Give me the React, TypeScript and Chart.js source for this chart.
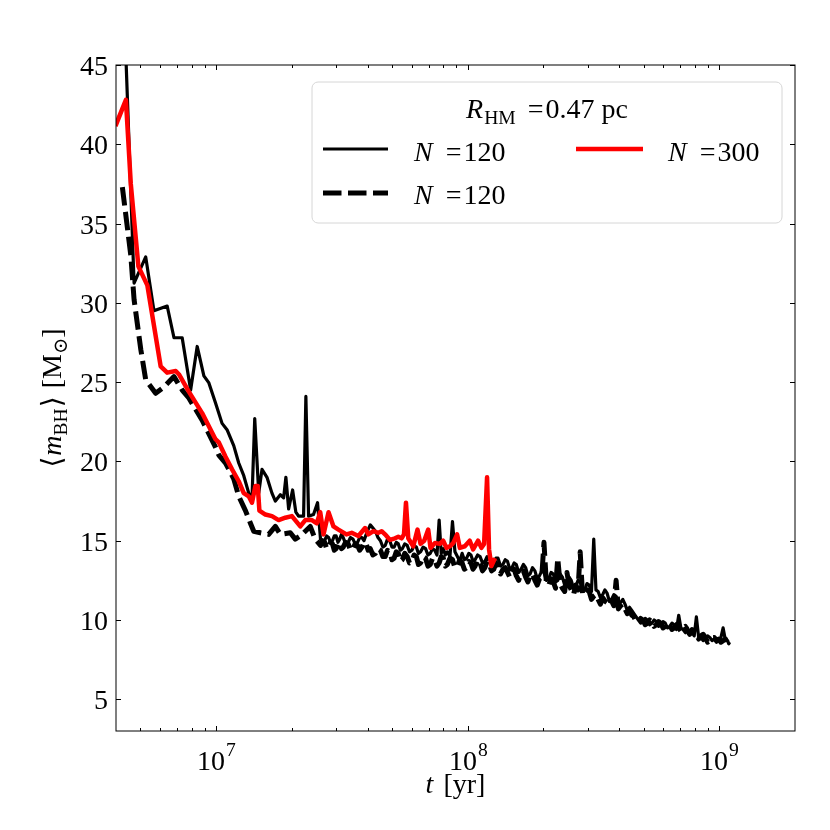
import React, { useEffect, useRef } from "react";
import { Chart, registerables } from "chart.js";

Chart.register(...registerables);

const FONT = '"Liberation Serif", "DejaVu Serif", serif';
const FS = 28;

// ---- data (t in Myr, <m_BH> in Msun) ----
const solidEarlyT = [4.3, 4.72, 5.25, 5.66, 6.39, 6.8, 7.33, 7.92, 8.41, 8.94, 9.36, 9.94, 10.56, 11.05, 11.75, 12.3, 12.88, 13.48, 13.89, 14.24, 14.77, 15.22, 15.93, 16.67, 17.2, 18.0, 18.55, 18.94, 19.42, 20.14, 20.75, 21.27, 22.27, 22.74, 23.31, 24.39, 25.3];
const solidEarlyM = [49, 31.25, 32.9, 29.5, 29.8, 27.8, 27.8, 24.5, 27.25, 25.4, 24.95, 23.7, 22.4, 22.0, 21.0, 19.9, 19.1, 18.0, 17.7, 22.7, 18.0, 19.5, 19.0, 18.0, 17.5, 17.9, 17.7, 19.0, 17.0, 18.2, 16.8, 16.55, 16.55, 24.1, 16.55, 16.65, 17.4];

const dashedEarlyT = [4.24, 4.58, 4.72, 5.02, 5.25, 5.75, 6.21, 6.8, 7.33, 7.79, 8.8, 9.94, 10.25, 10.9, 11.75, 12.3, 13.08, 13.69, 14.11, 15.0, 16.18, 17.2, 18.0, 19.72, 20.64, 21.61, 23.67, 24.77];
const dashedEarlyM = [37.3, 33.0, 30.2, 27.05, 25.15, 24.3, 24.7, 25.35, 24.5, 24.0, 22.6, 20.9, 20.4, 19.9, 18.9, 17.8, 16.9, 16.1, 15.6, 15.5, 15.4, 15.9, 15.4, 15.5, 15.1, 15.3, 15.9, 15.1];

const lateT = [
  26, 26.5, 27, 27.5, 28, 28.5, 29, 29.5, 30, 30.5,
  31, 31.5, 32, 32.7, 33.5, 34.2, 35, 35.7, 36.5, 37.2,
  38, 38.7, 39.5, 40.2, 41, 42, 43, 44, 45, 46,
  47, 48, 49, 50, 51, 52, 53, 54, 55, 56.2,
  57.5, 58.7, 60, 61.2, 62.5, 63.7, 65, 66.5, 68, 69.5,
  71, 72.5, 74, 75.5, 77, 78.5, 80, 81.5, 83, 85,
  87, 89, 91, 93, 95, 97, 99, 101, 103, 105,
  107, 109.5, 112, 114.5, 117, 119.5, 122, 124.5, 127, 129.5,
  132, 135, 138, 141, 144, 147, 150, 153, 156, 159.5,
  163, 166.5, 170, 173.5, 177, 181, 185, 189, 193, 197,
  201, 205.5, 210, 214.5, 219, 223.5, 228, 233, 238, 243,
  248, 253, 258, 263.5, 269, 274.5, 280, 286, 292, 298,
  304, 310.5, 317, 323.5, 330, 337, 344, 351, 358, 365.5,
  373, 381, 389, 397, 405, 413.5, 422, 431, 440, 449,
  458, 467.5, 477, 487, 497, 507.5, 518, 529, 540, 551,
  562, 573.5, 585, 597.5, 610, 622.5, 635, 648.5, 662, 676,
  690, 704, 718, 733, 748, 763.5, 779, 795, 811, 828,
  845, 862.5, 880, 898.5, 917, 936, 955, 975, 995, 1015.5,
  1036, 1058, 1080, 1090, 1100,
];
const solidLateM = [
  15.1, 14.8, 15.0, 15.3, 15.2, 14.9, 15.0, 15.3, 15.3, 14.9,
  15.1, 15.4, 15.2, 14.8, 14.9, 15.2, 15.1, 14.8, 14.9, 15.2,
  15.2, 15.0, 15.4, 15.7, 16.0, 15.8, 15.6, 15.2, 15.0, 14.6,
  14.7, 15.1, 15.0, 14.6, 14.6, 14.9, 14.8, 14.4, 14.5, 14.8,
  14.7, 14.3, 14.4, 14.7, 14.6, 14.2, 14.3, 14.6, 14.5, 14.1,
  14.2, 14.5, 14.4, 14.1, 16.3, 14.2, 14.5, 14.1, 14.3, 14.0,
  16.2, 14.3, 14.0, 13.7, 14.2, 13.8, 13.9, 14.2, 14.1, 13.7,
  13.8, 14.1, 14.0, 13.6, 13.7, 14.0, 13.9, 13.5, 13.6, 13.9,
  13.9, 13.4, 13.5, 13.8, 13.7, 13.2, 13.3, 13.6, 13.5, 13.0,
  13.2, 13.5, 13.3, 12.8, 12.9, 13.3, 13.1, 12.6, 12.8, 13.1,
  13.0, 12.5, 12.6, 13.0, 12.9, 12.4, 12.5, 12.9, 12.7, 12.2,
  12.3, 12.7, 12.5, 12.0, 12.1, 12.5, 12.4, 11.9, 11.9, 12.3,
  12.2, 11.8, 15.1, 11.9, 11.8, 11.4, 11.6, 11.9, 11.7, 11.2,
  11.3, 11.6, 11.5, 11.0, 11.1, 11.3, 11.0, 10.6, 10.8, 10.6,
  10.4, 10.2, 10.0, 9.8, 9.9, 10.1, 10.0, 9.7, 9.8, 10.0,
  9.9, 9.6, 9.7, 9.9, 9.8, 9.5, 9.6, 9.8, 9.7, 9.4,
  10.3, 9.5, 9.4, 9.2, 9.5, 9.1, 9.2, 9.0, 10.2, 8.9,
  8.9, 8.7, 8.8, 9.0, 8.9, 8.7, 8.8, 8.6, 8.7, 8.9,
  9.5, 8.7, 8.7, 8.5, 8.6,
];
const dashedLateM = [
  14.7, 15.0, 14.9, 14.5, 14.6, 14.9, 14.8, 14.4, 14.5, 14.9,
  14.8, 14.5, 14.6, 14.9, 14.8, 14.4, 14.5, 14.8, 14.7, 14.4,
  14.6, 14.9, 14.8, 14.4, 14.5, 14.1, 14.2, 14.5, 14.4, 14.0,
  14.0, 14.4, 14.3, 13.8, 13.9, 14.3, 14.2, 13.7, 13.8, 14.2,
  14.0, 13.6, 13.7, 14.1, 14.0, 13.5, 13.6, 14.0, 13.9, 13.4,
  13.5, 13.9, 13.8, 13.4, 13.6, 14.0, 13.9, 13.4, 13.5, 13.9,
  13.8, 13.3, 13.4, 13.8, 13.6, 13.2, 13.3, 13.7, 13.6, 13.2,
  13.4, 13.8, 13.6, 13.1, 13.3, 13.7, 13.5, 13.1, 13.2, 13.6,
  13.4, 12.9, 13.2, 13.3, 13.0, 12.7, 13.1, 13.2, 12.8, 12.5,
  13.0, 13.1, 12.7, 12.4, 12.8, 12.9, 12.5, 12.2, 12.6, 12.7,
  14.9, 12.3, 12.2, 12.6, 12.4, 12.0, 13.9, 12.3, 12.0, 11.8,
  13.0, 12.2, 11.9, 11.6, 12.2, 11.9, 14.3, 11.6, 11.6, 11.9,
  11.8, 11.3, 11.5, 11.6, 11.3, 11.0, 11.4, 11.2, 11.1, 10.9,
  11.2, 10.9, 12.5, 10.7, 10.9, 10.6, 10.7, 10.4, 10.6, 10.3,
  10.2, 9.9, 9.9, 10.1, 10.0, 9.7, 9.8, 10.0, 9.9, 9.6,
  9.7, 9.9, 9.8, 9.5, 9.6, 9.8, 9.7, 9.4, 9.5, 9.7,
  9.5, 9.3, 9.5, 9.6, 9.3, 9.1, 9.4, 9.2, 9.1, 8.8,
  9.0, 9.1, 8.9, 8.6, 8.7, 8.9, 8.9, 8.7, 8.8, 8.6,
  8.7, 8.8, 8.6, 8.5, 8.6,
];

const redT = [3.98, 4.38, 4.58, 4.91, 5.33, 6.02, 6.39, 6.91, 7.11, 7.79, 8.8, 9.94, 10.25, 10.9, 11.57, 12.3, 12.88, 13.48, 13.89, 14.33, 14.64, 14.86, 15.7, 16.67, 17.72, 18.84, 20.01, 21.61, 22.62, 24.02, 25.13, 25.93, 26.73, 27.98, 29.28, 30.64, 32.96, 34.59, 36.78, 39.09, 40.29, 42.17, 44.14, 45.49, 46.93, 49.12, 51.41, 52.99, 54.61, 55.82, 56.84, 58.06, 60.77, 63.18, 64.94, 67.18, 69.67, 71.16, 74.08, 77.54, 79.91, 82.35, 84.92, 87.53, 90.78, 93.05, 97.39, 101.9, 105.1, 110.0, 113.4, 116.2, 119.4, 121.6, 124.2, 128.4];
const redM = [41.15, 42.8, 37.5, 32.3, 31.1, 26.0, 25.6, 25.7, 25.5, 24.4, 23.05, 21.4, 21.2, 20.3, 19.5, 18.75, 18.0, 17.8, 17.4, 18.45, 18.45, 16.9, 16.65, 16.55, 16.3, 16.45, 16.55, 15.9, 16.3, 16.3, 16.1, 16.8, 15.4, 16.8, 15.9, 15.7, 15.4, 15.5, 15.3, 15.8, 15.4, 15.6, 15.5, 15.6, 15.4, 15.05, 15.15, 15.25, 15.15, 15.4, 17.4, 15.15, 14.65, 15.7, 14.8, 15.0, 15.7, 14.55, 14.85, 14.8, 15.0, 14.55, 14.65, 14.85, 15.4, 14.55, 14.65, 15.0, 14.45, 15.0, 14.55, 14.8, 19.0, 14.45, 13.4, 13.9];

const yTicks = [5, 10, 15, 20, 25, 30, 35, 40, 45];
const xMajorTicks = [1e7, 1e8, 1e9];
const xMajorExp = ["7", "8", "9"];
const xMinorTicks = [5e6, 6e6, 7e6, 8e6, 9e6, 2e7, 3e7, 4e7, 5e7, 6e7, 7e7, 8e7, 9e7, 2e8, 3e8, 4e8, 5e8, 6e8, 7e8, 8e8, 9e8];

const legendLabels = ["120", "120", "300"];
const legendTitleValue = "0.47 pc";

const toPts = (t: number[], m: number[]) => t.map((v, i) => ({ x: v * 1e6, y: m[i] }));

type Seg = { s: string; it?: boolean; sub?: boolean; sup?: boolean; gap?: number };
const fontOf = (g: Seg) => `${g.it ? "italic " : ""}${g.sub || g.sup ? FS * 0.7 : FS}px ${FONT}`;
function richWidth(ctx: CanvasRenderingContext2D, segs: Seg[]) {
  let w = 0;
  for (const g of segs) {
    ctx.font = fontOf(g);
    w += (g.gap || 0) + ctx.measureText(g.s).width;
  }
  return w;
}
function drawRich(ctx: CanvasRenderingContext2D, segs: Seg[], x: number, y: number) {
  ctx.textAlign = "left";
  ctx.textBaseline = "alphabetic";
  let cx = x;
  for (const g of segs) {
    ctx.font = fontOf(g);
    cx += g.gap || 0;
    const dy = g.sub ? FS * 0.2 : g.sup ? -FS * 0.5 : 0;
    ctx.fillText(g.s, cx, y + dy);
    cx += ctx.measureText(g.s).width;
  }
}

const decor = {
  id: "decor",
  afterDatasetsDraw(chart: any) {
    const ctx: CanvasRenderingContext2D = chart.ctx;
    const { left, right, top, bottom } = chart.chartArea;
    const xs = chart.scales.x;
    const ys = chart.scales.y;
    ctx.save();
    ctx.fillStyle = "#000";
    ctx.strokeStyle = "#000";
    ctx.lineWidth = 1;
    ctx.strokeRect(left, top, right - left, bottom - top);
    for (const v of yTicks) {
      const py = Math.round(ys.getPixelForValue(v)) + 0.5;
      ctx.beginPath();
      ctx.moveTo(left, py); ctx.lineTo(left + 5, py);
      ctx.moveTo(right, py); ctx.lineTo(right - 5, py);
      ctx.stroke();
      ctx.font = `${FS}px ${FONT}`;
      ctx.textAlign = "right";
      ctx.textBaseline = "alphabetic";
      ctx.fillText(String(v), left - 8, py + 9.5);
    }
    const xt = (v: number, len: number) => {
      const px = Math.round(xs.getPixelForValue(v)) + 0.5;
      ctx.beginPath();
      ctx.moveTo(px, bottom); ctx.lineTo(px, bottom - len);
      ctx.moveTo(px, top); ctx.lineTo(px, top + len);
      ctx.stroke();
      return px;
    };
    xMinorTicks.forEach((v) => xt(v, 3));
    xMajorTicks.forEach((v, i) => {
      const px = xt(v, 5);
      const segs: Seg[] = [{ s: "10" }, { s: xMajorExp[i], sup: true, gap: 1 }];
      const w = richWidth(ctx, segs);
      drawRich(ctx, segs, px - w / 2, 770);
    });
    const xl: Seg[] = [{ s: "t", it: true }, { s: "[yr]", gap: 10 }];
    const xw = richWidth(ctx, xl);
    drawRich(ctx, xl, (left + right) / 2 - xw / 2, 793);
    const yl: Seg[] = [
      { s: "⟨" }, { s: "m", it: true, gap: 1 }, { s: "BH", sub: true }, { s: "⟩", gap: 1 },
      { s: "[M", gap: 8 }, { s: "⊙", sub: true }, { s: "]" },
    ];
    const yw = richWidth(ctx, yl);
    ctx.save();
    ctx.translate(61, (top + bottom) / 2);
    ctx.rotate(-Math.PI / 2);
    drawRich(ctx, yl, -yw / 2, 0);
    ctx.restore();

    // legend
    const bx = 312, by = 82, bw = 470, bh = 141, r = 6;
    ctx.beginPath();
    ctx.moveTo(bx + r, by);
    ctx.lineTo(bx + bw - r, by);
    ctx.arcTo(bx + bw, by, bx + bw, by + r, r);
    ctx.lineTo(bx + bw, by + bh - r);
    ctx.arcTo(bx + bw, by + bh, bx + bw - r, by + bh, r);
    ctx.lineTo(bx + r, by + bh);
    ctx.arcTo(bx, by + bh, bx, by + bh - r, r);
    ctx.lineTo(bx, by + r);
    ctx.arcTo(bx, by, bx + r, by, r);
    ctx.closePath();
    ctx.fillStyle = "rgba(255,255,255,0.8)";
    ctx.fill();
    ctx.strokeStyle = "#d6d6d6";
    ctx.lineWidth = 1;
    ctx.stroke();

    ctx.fillStyle = "#000";
    const title: Seg[] = [
      { s: "R", it: true }, { s: "HM", sub: true, gap: 1 }, { s: "=", gap: 12 }, { s: legendTitleValue, gap: 2 },
    ];
    const tw = richWidth(ctx, title);
    drawRich(ctx, title, bx + bw / 2 - tw / 2, 118);

    const ds = chart.data.datasets;
    const handle = (d: any, x0: number, x1: number, y: number) => {
      ctx.save();
      ctx.strokeStyle = d.borderColor;
      ctx.lineWidth = d.borderWidth;
      ctx.setLineDash(d.borderDash || []);
      ctx.lineCap = "butt";
      ctx.beginPath();
      ctx.moveTo(x0, y); ctx.lineTo(x1, y);
      ctx.stroke();
      ctx.restore();
    };
    const lbl = (txt: string, x: number, y: number) =>
      drawRich(ctx, [{ s: "N", it: true }, { s: "=", gap: 13 }, { s: txt, gap: 2 }], x, y);
    handle(ds[2], 323, 388, 149);
    lbl(legendLabels[0], 414, 161);
    handle(ds[1], 323, 388, 193);
    lbl(legendLabels[1], 414, 204);
    handle(ds[0], 576, 643, 149);
    lbl(legendLabels[2], 668, 161);
    ctx.restore();
  },
};

export default function App() {
  const ref = useRef<HTMLCanvasElement>(null);
  useEffect(() => {
    if (!ref.current) return;
    const chart = new Chart(ref.current, {
      type: "line",
      data: {
        datasets: [
          {
            label: "N=300",
            data: toPts(redT, redM),
            borderColor: "#ff0000",
            borderWidth: 4.5,
            order: 0,
          },
          {
            label: "N=120 dashed",
            data: toPts(dashedEarlyT.concat(lateT), dashedEarlyM.concat(dashedLateM)),
            borderColor: "#000000",
            borderWidth: 5,
            borderDash: [18.5, 6.5],
            order: 1,
          },
          {
            label: "N=120",
            data: toPts(solidEarlyT.concat(lateT), solidEarlyM.concat(solidLateM)),
            borderColor: "#000000",
            borderWidth: 3.2,
            order: 2,
          },
        ].map((d) => ({
          ...d,
          pointRadius: 0,
          tension: 0,
          fill: false,
          clip: 0,
          borderJoinStyle: "round" as const,
        })),
      },
      options: {
        animation: false,
        responsive: false,
        events: [],
        layout: { padding: { left: 116, top: 65, right: 35, bottom: 99 } },
        scales: {
          x: { type: "logarithmic", min: 4e6, max: 2e9, display: false },
          y: { type: "linear", min: 3, max: 45, display: false },
        },
        plugins: { legend: { display: false }, tooltip: { enabled: false } },
      },
      plugins: [decor],
    });
    return () => chart.destroy();
  }, []);
  return (
    <div style={{ position: "fixed", left: 0, top: 0, width: 830, height: 830, background: "#fff" }}>
      <canvas ref={ref} width={830} height={830} style={{ width: 830, height: 830 }} />
    </div>
  );
}
